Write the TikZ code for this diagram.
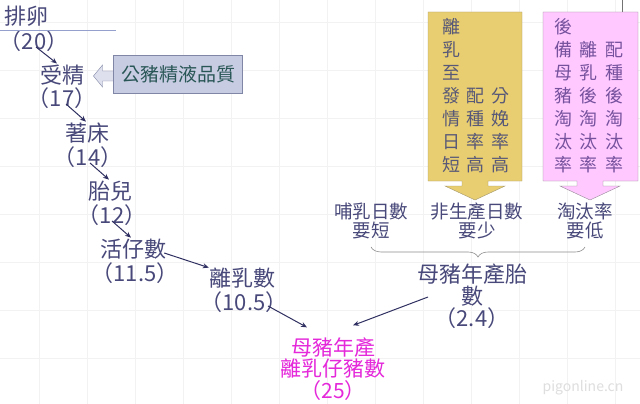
\documentclass[tikz,border=0pt]{standalone}
\usepackage{fontspec}
\setmainfont{Noto Sans CJK TC}
\usetikzlibrary{arrows.meta,positioning,decorations.pathreplacing}
\definecolor{ink}{RGB}{72,72,122}
\definecolor{arrc}{RGB}{48,48,98}
\definecolor{mag}{RGB}{228,40,218}
\definecolor{yfill}{RGB}{232,206,112}
\definecolor{yline}{RGB}{165,152,110}
\definecolor{ytxt}{RGB}{88,88,120}
\definecolor{pfill}{RGB}{255,200,255}
\definecolor{pline}{RGB}{150,138,150}
\definecolor{ptxt}{RGB}{118,82,158}
\definecolor{qfill}{RGB}{200,204,226}
\definecolor{qline}{RGB}{128,134,165}
\definecolor{qtxt}{RGB}{40,86,86}
\definecolor{rule}{RGB}{150,160,205}
\tikzset{
  big/.style={inner sep=0pt,text=ink,font=\fontsize{22}{23}\selectfont},
  hint/.style={inner sep=0pt,text=ink,align=center,font=\fontsize{18.5}{18.5}\selectfont},
  boxtxt/.style={inner sep=0pt,font=\fontsize{18}{23}\selectfont},
  link/.style={draw=arrc,line width=1pt,-{Stealth[length=6pt,width=5pt]}},
  gridline/.style={draw=black!5,line width=0.5pt},
  brace/.style={draw=black!45,line width=0.6pt,decorate,decoration={brace,amplitude=10pt}}
}
\begin{document}
\begin{tikzpicture}[x=1pt,y=-1pt]
\useasboundingbox (0,0) rectangle (640,404);
\fill[white] (0,0) rectangle (640,404);
\foreach \i in {0,...,12} \draw[gridline] (39+48*\i,0) -- (39+48*\i,404);
\foreach \j in {0,...,7} \draw[gridline] (0,22+48*\j) -- (640,22+48*\j);

  \node[big] (s1) at (27,16) {排卵};
  \node[big] (n1) at (34,41) {（20）};
  \node[big] (s2) at (62,75) {受精};
  \node[big] (n2) at (62,98) {（17）};
  \node[big] (s3) at (87,133) {著床};
  \node[big] (n3) at (88,157) {（14）};
  \node[big] (s4) at (110,191) {胎兒};
  \node[big] (n4) at (112,215) {（12）};
  \node[big] (s5) at (133,249) {活仔數};
  \node[big] (n5) at (135,273) {（11.5）};
  \node[big] (s6) at (242,278) {離乳數};
  \node[big] (n6) at (244,302) {（10.5）};
  \node[big,text=mag,align=center,font=\fontsize{21}{21.5}\selectfont] (w) at (333,369) {母豬年產\\離乳仔豬數\\（25）};
  \node[big,align=center,font=\fontsize{22}{22}\selectfont] (l) at (472,296) {母豬年產胎\\數\\（2.4）};
  \node[hint] (h1) at (371,221) {哺乳日數\\要短};
  \node[hint] (h2) at (477,221) {非生產日數\\要少};
  \node[hint] (h3) at (585,221) {淘汰率\\要低};

\draw[rule] (0,30) -- (116,30);

\draw[qline,fill=qfill!60] (113.5,71) -- (102.5,71) -- (102.5,65) -- (93.5,76) -- (102.5,87) -- (102.5,81) -- (113.5,81) -- cycle;
  \node[draw=qline,fill=qfill,minimum width=129,minimum height=38,inner sep=0pt,text=qtxt,font=\fontsize{19}{19}\selectfont] (q) at (178,74) {公豬精液品質};

\draw[yline,fill=yfill] (428,12) -- (522,12) -- (522,181) -- (488,181) -- (488,186) -- (505,186) -- (475,200) -- (445,186) -- (462,186) -- (462,181) -- (428,181) -- cycle;
\draw[pline,fill=pfill] (543,12) -- (638,12) -- (638,181) -- (603,181) -- (603,186) -- (620,186) -- (590,200) -- (560,186) -- (577,186) -- (577,181) -- (543,181) -- cycle;
\draw[black!55] (622,0) -- (622,12);
  \node[boxtxt,text=ytxt] (y) at (476,98) {\begin{tabular}{@{}c@{\hspace{7pt}}c@{\hspace{7pt}}c@{}}離&&\\乳&&\\至&&\\發&配&分\\情&種&娩\\日&率&率\\短&高&高\end{tabular}};
  \node[boxtxt,text=ptxt] (p) at (589,98) {\begin{tabular}{@{}c@{\hspace{8pt}}c@{\hspace{8pt}}c@{}}後&&\\備&離&配\\母&乳&種\\豬&後&後\\淘&淘&淘\\汰&汰&汰\\率&率&率\end{tabular}};

\draw[brace] ([shift={(0,8)}]h3.south) -- ([shift={(0,8)}]h1.south);

\draw[link] ([shift={(2,6)}]n1.center) -- ([shift={(-5,-1)}]s2.north);
\draw[link] ([shift={(4,6)}]n2.center) -- ([shift={(-1,-1)}]s3.north);
\draw[link] ([shift={(2,6)}]n3.center) -- ([shift={(-1,-1)}]s4.north);
\draw[link] ([shift={(0,6)}]n4.center) -- ([shift={(-2,-1)}]s5.north);
\draw[link] ([shift={(-2,4)}]s5.east) -- (s6.north west);
\draw[link] ([shift={(24,4)}]n6.center) -- ([shift={(-26,-10)}]w.north);
\draw[link] ([shift={(-44,1)}]l.center) -- ([shift={(20,-12)}]w.north);

  \node[text=black!13,font=\fontsize{14}{14}\selectfont] (wm) at (583,388) {pigonline.cn};
\end{tikzpicture}
\end{document}
